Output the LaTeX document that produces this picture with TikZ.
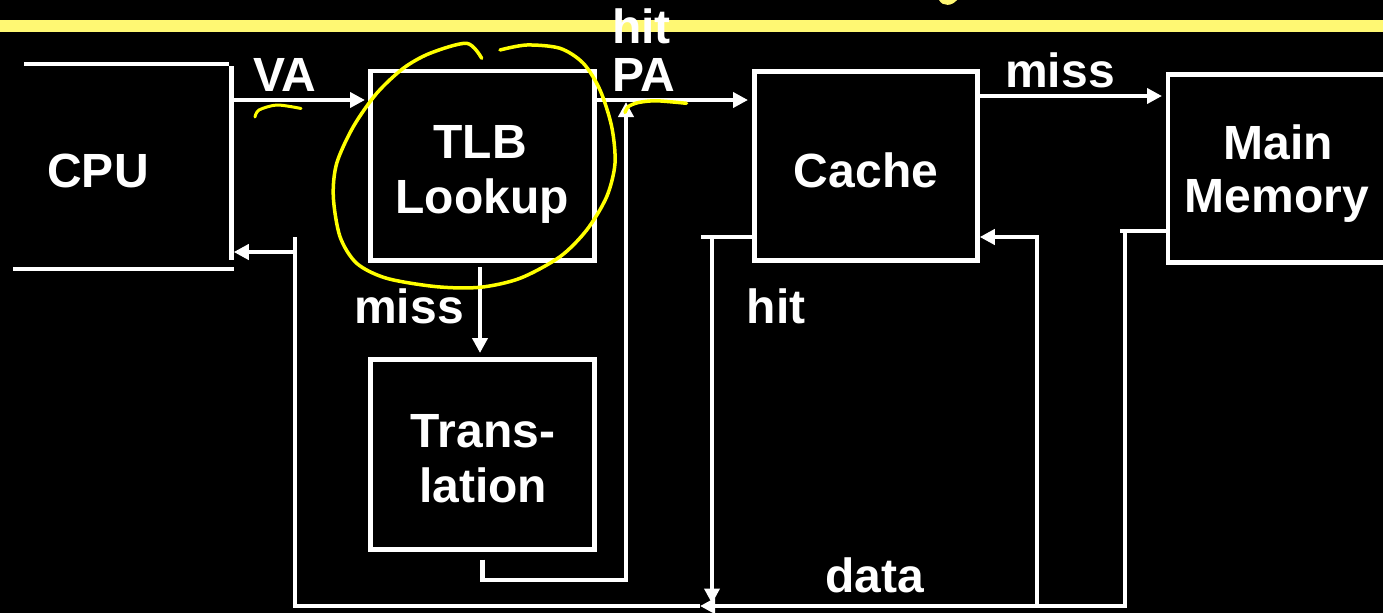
\documentclass[tikz,border=0pt]{standalone}
\usepackage{fontspec}
\setmainfont{Liberation Sans}
\usetikzlibrary{arrows.meta,calc}
\definecolor{barY}{RGB}{255,248,115}
\definecolor{penY}{RGB}{255,255,0}
\begin{document}
\begin{tikzpicture}[x=1pt,y=-1pt,
  wire/.style={draw=white,line width=4.5pt},
  arr/.style={wire,-{Triangle[length=15pt,width=15pt]}},
  box/.style={draw=white,line width=4.5pt,inner sep=0pt,outer sep=0pt,fill=black},
  txt/.style={text=white,font=\bfseries\fontsize{48}{55}\selectfont,inner sep=0pt,anchor=base},
  pen/.style={draw=penY,line width=3.5pt,line cap=round,line join=round}]
\useasboundingbox (0,0) rectangle (1383,613);
\clip (0,0) rectangle (1383,613);
\fill[black] (0,0) rectangle (1383,613);
\fill[barY] (0,20) rectangle (1383,32);
\fill[barY] (939,0) .. controls (943,7) and (952,6) .. (957,0) -- cycle;

% CPU (open shape)
\node[inner sep=0pt,outer sep=0pt,minimum width=218.5pt,minimum height=205pt] (cpu) at (122.25,166.5) {};
\draw[wire] (24,64) -- (229,64);
\draw[wire] (231.5,66) -- (231.5,260);
\draw[wire] (13,269) -- (234,269);

% boxes
\node[box,minimum width=224pt,minimum height=189.5pt] (tlb) at (482.5,165.75) {};
\node[box,minimum width=224pt,minimum height=190pt] (trans) at (482.5,454.5) {};
\node[box,minimum width=223pt,minimum height=189pt] (cache) at (866,166) {};
\node[box,minimum width=223pt,minimum height=188pt] (mm) at (1279.5,168.5) {};

% texts
\node[txt] (cpuT) at (98,187) {CPU};
\node[txt] (tlbT1) at (480,158) {TLB};
\node[txt] (tlbT2) at (482,213) {Lookup};
\node[txt] (trT1) at (483,447) {Trans-};
\node[txt] (trT2) at (483,502) {lation};
\node[txt] (caT) at (866,187) {Cache};
\node[txt] (mmT1) at (1278,159) {Main};
\node[txt] (mmT2) at (1277,212) {Memory};
\node[txt] (vaT) at (285,91) {VA};
\node[txt,anchor=base west] (hitT) at (612,43) {hit};
\node[txt,anchor=base west] (paT) at (612,91) {PA};
\node[txt] (miss1) at (1060,87) {miss};
\node[txt] (miss2) at (409,323) {miss};
\node[txt] (hit2) at (776,323) {hit};
\node[txt] (dataT) at (875,592) {data};

% coordinates for connectors
\coordinate (vaS) at (233.75,100);
\coordinate (mY) at (0,96);
\coordinate (trC) at (626,580);
\coordinate (hitL) at (701,237);
\coordinate (hitV) at (712,237);
\coordinate (bus) at (0,606);
\coordinate (mmL) at (1120,231);
\coordinate (mmV) at (1125,231);
\coordinate (busArr) at (700,606);
\coordinate (busL) at (295,606);
\coordinate (cpuV) at (295,237);
\coordinate (cpuIn) at (295,252);
\coordinate (dV) at (1037,606);
\coordinate (dT) at (1037,237);

% connectors
\draw[arr,shorten >=5.5pt] (vaS) -- (vaS -| tlb.west);
\draw[arr,shorten >=6.5pt] (vaS -| tlb.east) -- (vaS -| cache.west);
\draw[arr,shorten >=6pt] (mY -| cache.east) -- (mY -| mm.west);
\draw[arr,shorten <=6.5pt,shorten >=6.5pt] ([xshift=-2.5pt]tlb.south) -- ([xshift=-2.5pt]trans.north);
\draw[arr,shorten >=2pt] ([yshift=-10pt]trans.south) |- (trC) -- (trC |- vaS);
\draw[wire] (hitL -| cache.west) -- (hitL);
\draw[arr,shorten >=2.5pt] (hitV) -- (hitV |- bus);
\draw[wire] (mmL -| mm.west) -- (mmL);
\draw[arr] (mmV) |- (busArr);
\draw[wire] (busArr) -- (busL) -- (cpuV);
\draw[arr,shorten >=2.25pt] (cpuIn) -- (cpuIn -| cpu.east);
\draw[arr,shorten >=2.25pt] (dV) -- (dT) -- (dT -| cache.east);

% yellow pen annotations
\draw[pen] plot[smooth] coordinates {(481.7,58.3) (466.7,43.3) (430,53.3) (403.3,68.3) (376.7,93.3) (353.3,126.7) (336.7,163.3) (333.3,196.7) (340,236.7) (356.7,263.3) (386.7,278.3) (436.7,286.7) (480,287.3) (520,278.3) (560,256.7) (586.7,230) (606.7,196.7) (615,163.3) (611.7,126.7) (600,90) (583.3,63.3) (560,48.3) (526.7,45) (500,50)};
\draw[pen,line width=3pt] plot[smooth] coordinates {(255,117) (259,110) (277,105) (301,108.5)};
\draw[pen,line width=3.5pt] plot[smooth] coordinates {(625,112.5) (628.5,106.5) (638.5,102.5) (656.5,100.8) (686.5,103.3)};
\end{tikzpicture}
\end{document}
